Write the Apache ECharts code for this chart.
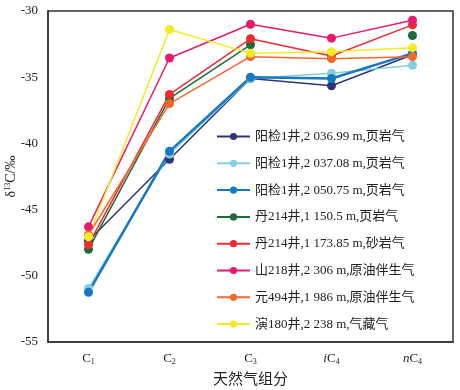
<!DOCTYPE html>
<html>
<head>
<meta charset="utf-8">
<script src="https://cdn.jsdelivr.net/npm/echarts@6/dist/echarts.min.js"></script>
<style>html,body{margin:0;padding:0;background:#fff;}#c{width:460px;height:390px;}</style>
</head>
<body>
<div id="c"></div>
<script>
const categories = ['C1', 'C2', 'C3', 'iC4', 'nC4'];
const seriesNames = [
  '阳检1井,2 036.99 m,页岩气',
  '阳检1井,2 037.08 m,页岩气',
  '阳检1井,2 050.75 m,页岩气',
  '丹214井,1 150.5 m,页岩气',
  '丹214井,1 173.85 m,砂岩气',
  '山218井,2 306 m,原油伴生气',
  '元494井,1 986 m,原油伴生气',
  '演180井,2 238 m,气藏气'
];
const yangjian1_2036 = [-47.35, -41.2, -35.1, -35.65, -33.3];
const yangjian1_2037 = [-50.95, -40.8, -35.1, -34.7, -34.1];
const yangjian1_2050 = [-51.25, -40.6, -35.0, -35.1, -33.2];
const dan214_1150 = [-48.0, -36.6, -32.55, null, -31.85];
const dan214_1173 = [-47.65, -36.3, -32.1, -33.4, -31.05];
const shan218 = [-46.3, -33.55, -31.0, -32.05, -30.7];
const yuan494 = [-46.9, -37.0, -33.45, -33.6, -33.45];
const yan180 = [-47.05, -31.4, -33.2, -33.07, -32.77];
const yTicks = { min: -55, max: -30, interval: 5 };

const values = [yangjian1_2036, yangjian1_2037, yangjian1_2050, dan214_1150, dan214_1173, shan218, yuan494, yan180];
const colors = ['#2f3477', '#82d0e2', '#1677c2', '#1d6b3b', '#ee2b2f', '#e91a6e', '#f4692a', '#f3eb23'];
const widths = [1.5, 1.5, 2.5, 1.5, 1.5, 1.5, 1.5, 1.5];
const FONT = "'Liberation Serif','Noto Sans CJK SC',serif";

const chart = echarts.init(document.getElementById('c'), null, { renderer: 'canvas' });
chart.setOption({
  animation: false,
  backgroundColor: '#fff',
  color: colors,
  grid: { left: 48, top: 11, right: 7, bottom: 48, show: true, borderColor: '#333', borderWidth: 1.5,
          containLabel: false, outerBoundsMode: 'none' },
  legend: {
    orient: 'vertical', left: 211, top: 125,
    itemWidth: 33, itemHeight: 9, itemGap: 13.8,
    textStyle: { fontFamily: FONT, fontSize: 13, color: '#222' },
    data: seriesNames
  },
  xAxis: {
    type: 'category', data: categories, boundaryGap: true,
    axisLine: { lineStyle: { color: '#333', width: 1.5 } },
    axisTick: { inside: true, length: 5, lineStyle: { color: '#555' } },
    axisLabel: {
      interval: 0, margin: 10, fontFamily: FONT,
      formatter: function (v) {
        if (v[0] === 'i' || v[0] === 'n') return '{it|' + v[0] + '}{m|C}{s|' + v.slice(2) + '}';
        return '{m|C}{s|' + v.slice(1) + '}';
      },
      rich: {
        m: { fontFamily: FONT, fontSize: 13, color: '#222' },
        it: { fontFamily: FONT, fontSize: 13, color: '#222', fontStyle: 'italic' },
        s: { fontFamily: FONT, fontSize: 8, color: '#222', verticalAlign: 'bottom', padding: [6, 0, 0, 0] }
      }
    },
    name: '天然气组分', nameLocation: 'middle', nameGap: 31, nameMoveOverlap: false,
    nameTextStyle: { fontFamily: FONT, fontSize: 15, color: '#222' }
  },
  yAxis: {
    type: 'value', min: yTicks.min, max: yTicks.max, interval: yTicks.interval,
    splitLine: { show: false },
    axisLine: { show: true, lineStyle: { color: '#333', width: 1.5 } },
    axisTick: { show: false },
    axisLabel: { fontFamily: FONT, fontSize: 13, color: '#222', margin: 10 },
    name: '{d|δ}{sup|13}{d|C/‰}', nameLocation: 'middle', nameGap: 30, nameRotate: 90,
    nameMoveOverlap: false,
    nameTextStyle: {
      rich: {
        d: { fontFamily: FONT, fontSize: 14, color: '#222' },
        sup: { fontFamily: FONT, fontSize: 8, color: '#222', verticalAlign: 'top', padding: [0, 0, 6, 0] }
      }
    }
  },
  series: seriesNames.map(function (n, i) {
    return {
      name: n, type: 'line', data: values[i],
      symbol: 'circle', symbolSize: 9, connectNulls: false,
      lineStyle: { width: widths[i], color: colors[i] },
      itemStyle: { color: colors[i] }
    };
  })
});
</script>
</body>
</html>
